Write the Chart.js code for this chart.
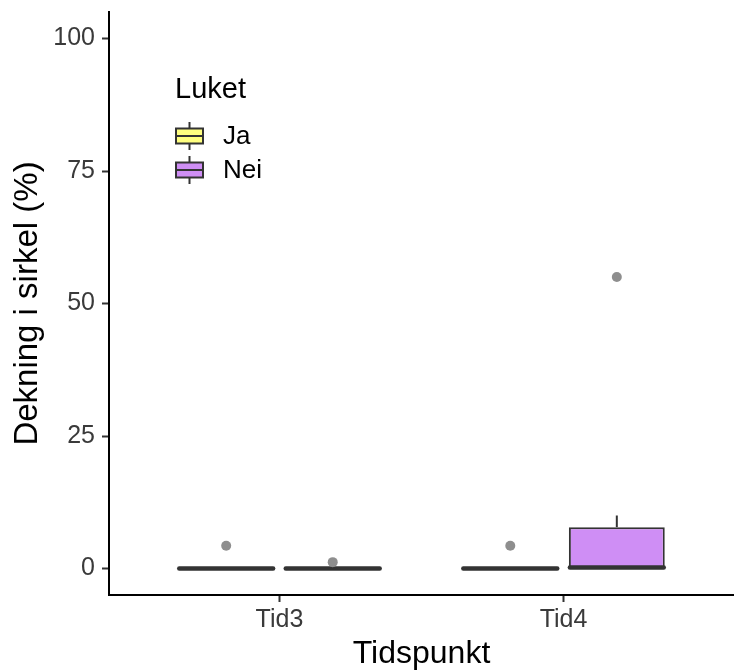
<!DOCTYPE html>
<html>
<head>
<meta charset="utf-8">
<script src="https://cdn.jsdelivr.net/npm/chart.js@4.4.1/dist/chart.umd.min.js"></script>
<style>
  html, body { margin: 0; padding: 0; background: #fff; }
  #wrap { width: 734px; height: 671px; }
</style>
</head>
<body>
<div id="wrap"><canvas id="chart" width="734" height="671"></canvas></div>
<script>
// categories on the x axis
const categories = ["Tid3", "Tid4"];
const legendTitle = "Luket";
const groups = ["Ja", "Nei"];
const groupColors = ["#ffff80", "#cf8ef5"];
// box statistics, one entry per category
const jaLow = [0, 0];
const jaQ1 = [0, 0];
const jaMedian = [0, 0];
const jaQ3 = [0, 0];
const jaHigh = [0, 0];
const jaOutliers = [[4.3], [4.3]];
const neiLow = [0, 0];
const neiQ1 = [0, 0];
const neiMedian = [0, 0.2];
const neiQ3 = [0, 7.8];
const neiHigh = [0, 10];
const neiOutliers = [[1.2], [55]];
// y tick labels
const yTicks = [0, 25, 50, 75, 100];

const FONT = "'Liberation Sans', Arial, sans-serif";
const LINE = "#333333";

//make one dataset per group, boxes are floating bars q1..q3
function makeSet(label, color, low, q1, med, q3, high, outl) {
  return {
    label: label,
    data: categories.map((c, i) => ({ x: i + 1, y: [q1[i], q3[i]] })),
    stats: { low: low, med: med, high: high, outl: outl },
    backgroundColor: color,
    borderColor: LINE,
    borderWidth: 2,
    borderSkipped: false,
    categoryPercentage: 0.75,
    barPercentage: 0.9,
  };
}

const datasets = [
  makeSet(groups[0], groupColors[0], jaLow, jaQ1, jaMedian, jaQ3, jaHigh, jaOutliers),
  makeSet(groups[1], groupColors[1], neiLow, neiQ1, neiMedian, neiQ3, neiHigh, neiOutliers),
];

//whiskers, medians and outlier points
const boxExtras = {
  id: "boxExtras",
  afterDatasetsDraw(chart) {
    const ctx = chart.ctx;
    const y = chart.scales.y;
    chart.data.datasets.forEach((ds, d) => {
      const meta = chart.getDatasetMeta(d);
      meta.data.forEach((bar, i) => {
        const { x, width } = bar.getProps(["x", "width"], true);
        const [q1, q3] = ds.data[i].y;
        ctx.save();
        ctx.strokeStyle = LINE;
        ctx.lineWidth = 2;
        ctx.beginPath();
        ctx.moveTo(x, y.getPixelForValue(q3));
        ctx.lineTo(x, y.getPixelForValue(ds.stats.high[i]));
        ctx.moveTo(x, y.getPixelForValue(q1));
        ctx.lineTo(x, y.getPixelForValue(ds.stats.low[i]));
        ctx.stroke();
        // median
        ctx.lineWidth = 4.5;
        ctx.lineCap = "round";
        const my = y.getPixelForValue(ds.stats.med[i]);
        ctx.beginPath();
        ctx.moveTo(x - width / 2 + 1, my);
        ctx.lineTo(x + width / 2 - 1, my);
        ctx.stroke();
        // outliers
        ctx.fillStyle = "#8e8e8e";
        ds.stats.outl[i].forEach((v) => {
          ctx.beginPath();
          ctx.arc(x, y.getPixelForValue(v), 5, 0, Math.PI * 2);
          ctx.fill();
        });
        ctx.restore();
      });
    });
  },
};

//legend drawn inside the plot, like the ggplot one
const boxLegend = {
  id: "boxLegend",
  afterDraw(chart) {
    const ctx = chart.ctx;
    const area = chart.chartArea;
    const left = area.left + 66;
    const top = area.top + 86;
    ctx.save();
    ctx.fillStyle = "#000";
    ctx.font = "29px " + FONT;
    ctx.textBaseline = "alphabetic";
    ctx.fillText(legendTitle, left, top);
    groups.forEach((g, i) => {
      const cy = top + 38 + i * 34;
      const kx = left + 1;
      const kw = 27, kh = 15;
      ctx.strokeStyle = LINE;
      ctx.lineWidth = 2;
      ctx.beginPath();
      ctx.moveTo(kx + kw / 2, cy - 14);
      ctx.lineTo(kx + kw / 2, cy + 14);
      ctx.stroke();
      ctx.fillStyle = groupColors[i];
      ctx.fillRect(kx, cy - kh / 2, kw, kh);
      ctx.strokeRect(kx, cy - kh / 2, kw, kh);
      ctx.beginPath();
      ctx.moveTo(kx, cy);
      ctx.lineTo(kx + kw, cy);
      ctx.stroke();
      ctx.fillStyle = "#000";
      ctx.font = "26px " + FONT;
      ctx.textBaseline = "middle";
      ctx.fillText(g, kx + 47, cy + 1);
    });
    ctx.restore();
  },
};

const myChart = new Chart(document.getElementById("chart"), {
  type: "bar",
  data: { datasets: datasets },
  plugins: [boxExtras, boxLegend],
  options: {
    responsive: false,
    animation: false,
    devicePixelRatio: 1,
    layout: { padding: { top: 12, right: 0, bottom: 0, left: 0 } },
    plugins: {
      legend: { display: false },
      tooltip: { enabled: false },
    },
    scales: {
      x: {
        type: "linear",
        offset: false,
        min: 0.4,
        max: 2.6,
        afterBuildTicks: (s) => { s.ticks = categories.map((c, i) => ({ value: i + 1 })); },
        afterFit: (s) => { s.height = 76; s.paddingLeft = 0; s.paddingRight = 0; },
        grid: { offset: false, drawOnChartArea: false, tickLength: 7, tickColor: LINE, tickWidth: 2 },
        border: { display: true, color: "#000", width: 2 },
        ticks: {
          padding: 3,
          color: "#3a3a3a",
          font: { family: FONT, size: 25 },
          maxRotation: 0,
          callback: (v) => categories[v - 1],
        },
        title: {
          display: true,
          text: "Tidspunkt",
          color: "#000",
          font: { family: FONT, size: 32, lineHeight: 1 },
          padding: { top: 0, bottom: 1 },
        },
      },
      y: {
        min: -5,
        max: 105,
        afterBuildTicks: (s) => { s.ticks = yTicks.map((v) => ({ value: v })); },
        afterFit: (s) => { s.width = 109; s.paddingTop = 0; s.paddingBottom = 0; },
        grid: { drawOnChartArea: false, tickLength: 7, tickColor: LINE, tickWidth: 2 },
        border: { display: true, color: "#000", width: 2 },
        ticks: {
          padding: 7,
          color: "#3a3a3a",
          font: { family: FONT, size: 25 },
        },
        title: {
          display: true,
          text: "Dekning i sirkel (%)",
          color: "#000",
          font: { family: FONT, size: 33, lineHeight: 1 },
          padding: { top: 11, bottom: 0 },
        },
      },
    },
  },
});
</script>
</body>
</html>
